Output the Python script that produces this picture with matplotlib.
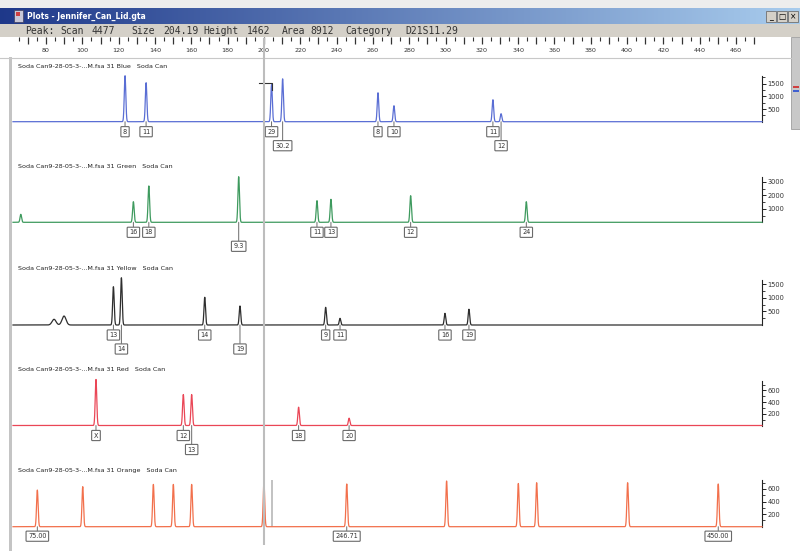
import numpy as np
import matplotlib
matplotlib.use("Agg")
import matplotlib.pyplot as plt
from matplotlib.patches import Rectangle

W, H = 800, 551
XMIN, XMAX = 61.8, 474.3

# ---------------- data (size in bp, height in RFU) ----------------
blue_sizes = [123.5, 135.1, 204.19, 210.3, 262.8, 271.6, 326.1, 330.6]
blue_heights = [1810, 1535, 1462, 1690, 1140, 630, 865, 315]
blue_labels = ["8", "11", "29", "30.2", "8", "10", "11", "12"]
blue_rows = [0, 0, 0, 1, 0, 0, 0, 1]

green_sizes = [66.1, 128.1, 136.6, 186.1, 229.2, 236.9, 280.8, 344.5]
green_heights = [590, 1525, 2690, 3375, 1600, 1700, 1970, 1525]
green_labels = ["", "16", "18", "9.3", "11", "13", "12", "24"]
green_rows = [0, 0, 0, 1, 0, 0, 0, 0]

yellow_sizes = [84.4, 89.9, 117.1, 121.5, 167.4, 186.8, 234.0, 241.9, 299.7, 312.9]
yellow_heights = [210, 330, 1410, 1740, 1020, 700, 650, 245, 430, 580]
yellow_labels = ["", "", "13", "14", "14", "19", "9", "11", "16", "19"]
yellow_rows = [0, 0, 0, 1, 0, 1, 0, 0, 0, 0]
yellow_broad = [True, True, False, False, False, False, False, False, False, False]

red_sizes = [107.5, 155.6, 160.2, 219.1, 246.9]
red_heights = [787, 530, 530, 313, 125]
red_labels = ["X", "12", "13", "18", "20"]
red_rows = [0, 0, 1, 0, 0]

orange_sizes = [75.2, 100.2, 139.1, 150.1, 160.2, 200.0, 245.6, 300.6, 340.1, 350.2, 400.3, 450.2]
orange_heights = [583, 636, 673, 673, 673, 716, 679, 727, 688, 700, 700, 679]
orange_labels = ["75.00", "", "", "", "", "", "246.71", "", "", "", "", "450.00"]
orange_rows = [0] * 12

ruler_labels = list(range(80, 461, 20))
selected_size = 204.19
selected_height = 1462
cursor_size = 200.0

window_title = "Plots - Jennifer_Can_Lid.gta"
status_tokens = ["Peak:", "Scan", "4477", "Size", "204.19", "Height", "1462",
                 "Area", "8912", "Category", "D21S11.29"]
status_x = [25, 60, 92, 131, 163, 203, 247, 282, 310, 345, 405]

sample = "Soda Can9-28-05-3-...M.fsa 31"

# ---------------- figure ----------------
fig = plt.figure(figsize=(W / 100, H / 100), dpi=100)


def px_axes(x0, y0, x1, y1):
    return fig.add_axes([x0 / W, 1 - y1 / H, (x1 - x0) / W, (y1 - y0) / H])


bg = px_axes(0, 0, W, H)
bg.set_xlim(0, W)
bg.set_ylim(H, 0)
bg.axis("off")

# top strip
bg.add_patch(Rectangle((0, 0), W, 8, fc="#ededed", ec="none"))
# title bar gradient
c0 = np.array([0.12, 0.22, 0.54])
c1 = np.array([0.66, 0.80, 0.93])
t = np.linspace(0, 1, 400)[None, :, None]
grad = c0 + (c1 - c0) * t
bg.imshow(grad, extent=(0, W, 24, 8), aspect="auto", zorder=1)
bg.add_patch(Rectangle((14, 10), 9, 12, fc="#c8c8d8", ec="#404060", lw=0.5, zorder=2))
bg.add_patch(Rectangle((16, 12), 4, 4, fc="#d04040", ec="none", zorder=3))
bg.text(27, 16.5, window_title, color="white", fontsize=5.5, fontweight="bold",
        va="center", ha="left", zorder=3)
# window buttons
for bx, glyph in zip([766, 777, 788], ["_", "□", "×"]):
    bg.add_patch(Rectangle((bx, 11), 10, 11, fc="#d4d0c8", ec="#707070", lw=0.6, zorder=2))
    bg.text(bx + 5, 16.5, glyph, fontsize=5.5, ha="center", va="center", color="black", zorder=3)

# status bar
bg.add_patch(Rectangle((0, 24), W, 13, fc="#d4d0c8", ec="none"))
for tok, tx in zip(status_tokens, status_x):
    bg.text(tx, 31, tok, family="DejaVu Sans Mono", fontsize=7.0, color="#333333",
            ha="left", va="center")

# ruler + plot area backgrounds
bg.add_patch(Rectangle((0, 37), 791, 20, fc="white", ec="none"))
bg.add_patch(Rectangle((0, 57), 791, H - 57, fc="white", ec="none"))
bg.plot([0, 791], [57.5, 57.5], color="#c8c8c8", lw=0.8)
bg.add_patch(Rectangle((9, 57), 3, H - 57, fc="#c4c4c4", ec="none"))
# right scrollbar strip
bg.add_patch(Rectangle((791, 37), 9, 92, fc="#c8c8c8", ec="#909090", lw=0.5))
bg.add_patch(Rectangle((793, 86), 6, 2, fc="#d04040", ec="none"))
bg.add_patch(Rectangle((793, 90), 6, 2, fc="#4060d0", ec="none"))

# ---------------- ruler ----------------
rx = px_axes(13, 37, 762, 57)
rx.set_xlim(XMIN, XMAX)
rx.set_ylim(0, 1)
rx.patch.set_alpha(0)
for sp in rx.spines.values():
    sp.set_visible(False)
rx.set_yticks([])
rx.xaxis.tick_top()
rx.set_xticks(np.arange(70, 471, 10))
rx.set_xticks(np.arange(65, 471, 5), minor=True)
rx.tick_params(axis="x", which="major", direction="in", length=5, width=0.9,
               color="#333333", labeltop=False)
rx.tick_params(axis="x", which="minor", direction="in", length=3, width=0.8,
               color="#333333")
for v in ruler_labels:
    rx.text(v, 0.33, str(v), fontsize=4.6, ha="center", va="center", color="#333333")

# ---------------- panels ----------------
panels = [
    dict(name="Blue", color="#5a6ed4", sizes=blue_sizes, heights=blue_heights,
         labels=blue_labels, rows=blue_rows, broad=None, base=121.7, top=76, rpp=39.4,
         ticks=[500, 1000, 1500], minor=250, title_y=66.7, lab_off=10),
    dict(name="Green", color="#3e9a5e", sizes=green_sizes, heights=green_heights,
         labels=green_labels, rows=green_rows, broad=None, base=222.3, top=176.7, rpp=74.0,
         ticks=[1000, 2000, 3000], minor=500, title_y=166.7, lab_off=10),
    dict(name="Yellow", color="#2e2e2e", sizes=yellow_sizes, heights=yellow_heights,
         labels=yellow_labels, rows=yellow_rows, broad=yellow_broad, base=325.0, top=280,
         rpp=36.8, ticks=[500, 1000, 1500], minor=250, title_y=269, lab_off=10),
    dict(name="Red", color="#ea4656", sizes=red_sizes, heights=red_heights,
         labels=red_labels, rows=red_rows, broad=None, base=425.5, top=380.7, rpp=17.1,
         ticks=[200, 400, 600], minor=100, title_y=369.5, lab_off=10),
    dict(name="Orange", color="#f2704c", sizes=orange_sizes, heights=orange_heights,
         labels=orange_labels, rows=orange_rows, broad=None, base=526.7, top=480, rpp=15.9,
         ticks=[200, 400, 600], minor=100, title_y=470.5, lab_off=9.5),
]

xs = np.linspace(XMIN, XMAX, 9000)
sigma = 0.42
axes = {}
for p in panels:
    ax = px_axes(13, p["top"], 762, p["base"])
    ymax = (p["base"] - p["top"]) * p["rpp"]
    ax.set_xlim(XMIN, XMAX)
    ax.set_ylim(0, ymax)
    ax.patch.set_alpha(0)
    for k in ["top", "left", "bottom"]:
        ax.spines[k].set_visible(False)
    ax.spines["right"].set_color("#222222")
    ax.spines["right"].set_linewidth(0.8)
    ax.set_xticks([])
    ax.yaxis.tick_right()
    ax.set_yticks(p["ticks"])
    ax.set_yticks(np.arange(p["minor"], ymax, p["minor"]), minor=True)
    ax.tick_params(axis="y", which="major", length=3, width=0.7, pad=1,
                   labelsize=4.8, labelcolor="#333333", color="#222222")
    ax.tick_params(axis="y", which="minor", length=1.8, width=0.6, color="#222222")

    broad = p["broad"] or [False] * len(p["sizes"])
    y = np.zeros_like(xs)
    for s, h, b in zip(p["sizes"], p["heights"], broad):
        w = 1.1 if b else sigma
        y += h * np.exp(-0.5 * ((xs - s) / w) ** 2)
    ax.plot(xs, y, color=p["color"], lw=0.9, clip_on=False, zorder=3)

    for s, h, lab, row in zip(p["sizes"], p["heights"], p["labels"], p["rows"]):
        if not lab:
            continue
        off = p["lab_off"] if row == 0 else 24
        ax.annotate(lab, xy=(s, 0), xytext=(0, -off * 0.72), textcoords="offset points",
                    ha="center", va="center", fontsize=4.7, color="#333333",
                    bbox=dict(boxstyle="round,pad=0.32,rounding_size=0.12", fc="white",
                              ec="#6a6a6a", lw=0.8),
                    arrowprops=dict(arrowstyle="-", color="#6a6a6a", lw=0.7,
                                    shrinkA=0, shrinkB=0),
                    annotation_clip=False, zorder=4)

    bg.text(18, p["title_y"], f"{sample} {p['name']}   Soda Can", fontsize=4.6,
            color="#222222", ha="left", va="center")
    axes[p["name"]] = ax

# selected-peak marker in blue panel
axb = axes["Blue"]
axb.plot([selected_size - 7, selected_size, selected_size],
         [selected_height * 1.05, selected_height * 1.05, selected_height * 0.85],
         color="#333333", lw=0.8, zorder=4)
# selected-size marker in orange panel
axes["Orange"].axvline(selected_size, color="#b8b8b8", lw=1.2, zorder=2)

# cursor line through all panels
cx = px_axes(13, 38, 762, 545)
cx.set_xlim(XMIN, XMAX)
cx.set_ylim(0, 1)
cx.axis("off")
cx.patch.set_alpha(0)
cx.axvline(cursor_size, color="#bdbdbd", lw=1.5, zorder=1)

fig.savefig("out.png", dpi=100)
